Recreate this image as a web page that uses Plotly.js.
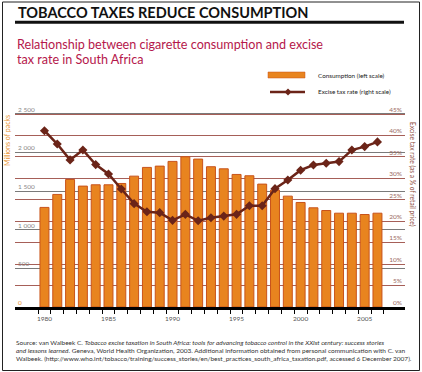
<!DOCTYPE html>
<html>
<head>
<meta charset="utf-8">
<script src="https://cdn.plot.ly/plotly-3.0.1.min.js"></script>
<style>html,body{margin:0;padding:0;background:#fff;}#chart{width:422px;height:372px;}</style>
</head>
<body>
<div id="chart"></div>
<script>
// ---- data ----
const years = [1980,1981,1982,1983,1984,1985,1986,1987,1988,1989,1990,1991,1992,1993,1994,1995,1996,1997,1998,1999,2000,2001,2002,2003,2004,2005,2006];
const consumption = [1290,1458,1652,1566,1583,1583,1600,1695,1808,1825,1886,1946,1916,1817,1790,1717,1700,1592,1514,1436,1354,1285,1250,1215,1215,1198,1215];
const taxRate = [41.1,38.0,34.3,36.6,33.2,31.0,27.5,24.1,22.2,22.0,20.2,21.6,20.1,20.8,21.2,21.6,23.6,23.6,27.6,29.6,31.9,33.1,33.5,33.9,36.6,37.4,38.5];
const xTickVals = [1980,1985,1990,1995,2000,2005];
const leftTickVals = [0,500,1000,1500,2000,2500];
const leftTickText = ['0','500','1 000','1 500','2 000','2 500'];
const rightTickVals = [0,5,10,15,20,25,30,35,40,45];
const rightTickText = ['0%','5%','10%','15%','20%','25%','30%','35%','40%','45%'];
const seriesNames = ['Consumption (left scale)', 'Excise tax rate (right scale)'];

const titleText = 'TOBACCO TAXES REDUCE CONSUMPTION';
const subtitle1 = 'Relationship between cigarette consumption and excise';
const subtitle2 = 'tax rate in South Africa';
const leftTitle = 'Millions of packs';
const rightTitle = 'Excise tax rate (as a % of retail price)';
const sourceLines = [
  'Source: van Walbeek C. <i>Tobacco excise taxation in South Africa: tools for advancing tobacco control in the XXIst century: success stories</i>',
  '<i>and lessons learned</i>. Geneva, World Health Organization, 2003. Additional information obtained from personal communication with C. van',
  'Walbeek. (http://www.who.int/tobacco/training/success_stories/en/best_practices_south_africa_taxation.pdf, accessed 6 December 2007).'
];

// ---- pixel helpers for page decorations ----
const W = 422, H = 372, ML = 15, MR = 17, MB = 65;
const ZERO_Y = H - MB;              // pixel row of value 0
const TOP_Y = 114;                  // pixel row of 2 500 / 45 %
const LEFT_MAX = 2500, RIGHT_MAX = 45;
const HEAD = 12;                    // extra px above top gridline so its label shows
const pxPerUnit = (ZERO_Y - TOP_Y) / LEFT_MAX;
const leftTop = LEFT_MAX + HEAD / pxPerUnit;
const rightTop = RIGHT_MAX * leftTop / LEFT_MAX;
const MT = TOP_Y - HEAD;
const PW = W - ML - MR, PH = H - MT - MB;
const px = x => (x - ML) / PW;
const py = y => (H - MB - y) / PH;
const FONT = 'Lato, "Noto Sans", sans-serif';

const BAR_COLOR = '#E8841F', BAR_EDGE = '#C8531B', LINE_COLOR = '#6B2418', ORANGE_TXT = '#E8922E';

// zero label of the left scale is printed in orange
const leftTickLabels = leftTickText.map((t, i) =>
  leftTickVals[i] === 0 ? `<span style="color:${ORANGE_TXT}">${t}</span>` : t);

const traces = [
  {
    type: 'bar', x: years, y: consumption, name: seriesNames[0],
    marker: {color: BAR_COLOR, line: {color: BAR_EDGE, width: 1}},
    yaxis: 'y'
  },
  {
    type: 'scatter', mode: 'lines+markers', x: years, y: taxRate, name: seriesNames[1],
    line: {color: LINE_COLOR, width: 2.5},
    marker: {symbol: 'diamond', size: 7, color: LINE_COLOR},
    yaxis: 'y2'
  }
];

const annotations = [
  {text: '<b>' + titleText + '</b>', x: px(16), y: py(12.5), xanchor: 'left', yanchor: 'middle',
   font: {family: FONT, size: 14.5, color: '#111'}},
  {text: subtitle1, x: px(15), y: py(44.5), xanchor: 'left', yanchor: 'middle',
   font: {family: FONT, size: 12.6, color: '#B5174B'}},
  {text: subtitle2, x: px(15), y: py(59.5), xanchor: 'left', yanchor: 'middle',
   font: {family: FONT, size: 12.6, color: '#B5174B'}},
  {text: leftTitle, x: px(7), y: py(141), textangle: -90, xanchor: 'center', yanchor: 'middle',
   font: {family: FONT, size: 7, color: ORANGE_TXT}},
  {text: rightTitle, x: px(413), y: py(174), textangle: 90, xanchor: 'center', yanchor: 'middle',
   font: {family: FONT, size: 6.6, color: '#8B4A3A'}},
  {text: seriesNames[0], x: px(316), y: py(75), xanchor: 'left', yanchor: 'middle',
   font: {family: FONT, size: 6.3, color: '#222'}},
  {text: seriesNames[1], x: px(316), y: py(92), xanchor: 'left', yanchor: 'middle',
   font: {family: FONT, size: 6.3, color: '#222'}}
];
sourceLines.forEach((t, i) => annotations.push({
  text: t, x: px(14), y: py(342 + i * 8.3), xanchor: 'left', yanchor: 'middle',
  font: {family: FONT, size: 6.5, color: '#333'}
}));
annotations.forEach(a => { a.xref = 'paper'; a.yref = 'paper'; a.showarrow = false; });

const diamond = (cx, cy, r) =>
  `M${px(cx)},${py(cy - r)} L${px(cx + r)},${py(cy)} L${px(cx)},${py(cy + r)} L${px(cx - r)},${py(cy)} Z`;

const shapes = [
  {type: 'line', x0: px(15), x1: px(404), y0: py(22.3), y1: py(22.3), line: {color: '#111', width: 3}},
  {type: 'rect', x0: px(2.5), x1: px(419.5), y0: py(2), y1: py(370.5), line: {color: '#222', width: 1}},
  // legend swatches
  {type: 'rect', x0: px(268), x1: px(305), y0: py(72), y1: py(78), fillcolor: BAR_COLOR, line: {color: BAR_EDGE, width: 0.5}},
  {type: 'line', x0: px(270), x1: px(305), y0: py(92), y1: py(92), line: {color: LINE_COLOR, width: 2.5}},
  {type: 'path', path: diamond(288, 92, 3.5), fillcolor: LINE_COLOR, line: {color: LINE_COLOR, width: 0}}
];
shapes.forEach(s => { s.xref = 'paper'; s.yref = 'paper'; });

const layout = {
  width: W, height: H,
  margin: {l: ML, r: MR, t: MT, b: MB, pad: 0},
  paper_bgcolor: '#fff', plot_bgcolor: '#fff',
  font: {family: FONT},
  bargap: 0.3,
  showlegend: false,
  xaxis: {
    range: [1977.7, 2008.15], tickvals: xTickVals, ticktext: xTickVals.map(String),
    showgrid: false, zeroline: false, showline: true, linecolor: '#000', linewidth: 2.5,
    ticks: 'outside', ticklen: 4, tickcolor: 'rgba(0,0,0,0)',
    minor: {tick0: 1979.5, dtick: 1, ticks: 'outside', ticklen: 4, tickwidth: 1, tickcolor: '#000', showgrid: false},
    tickfont: {family: FONT, size: 6.5, color: '#555'}
  },
  yaxis: {
    range: [0, leftTop], tickvals: leftTickVals, ticktext: leftTickLabels,
    ticklabelposition: 'inside top', showgrid: true, gridcolor: '#7a7a7a', gridwidth: 1.2,
    zeroline: false, showline: false, ticks: '',
    tickfont: {family: FONT, size: 6.5, color: '#888'}
  },
  yaxis2: {
    overlaying: 'y', side: 'right', range: [0, rightTop], tickvals: rightTickVals, ticktext: rightTickText,
    ticklabelposition: 'inside top', showgrid: true, gridcolor: '#A65F58', gridwidth: 1,
    zeroline: false, showline: false, ticks: '',
    tickfont: {family: FONT, size: 6.5, color: '#9A6A60'}
  },
  annotations: annotations,
  shapes: shapes
};

Plotly.newPlot('chart', traces, layout, {displayModeBar: false, staticPlot: true});
</script>
</body>
</html>
